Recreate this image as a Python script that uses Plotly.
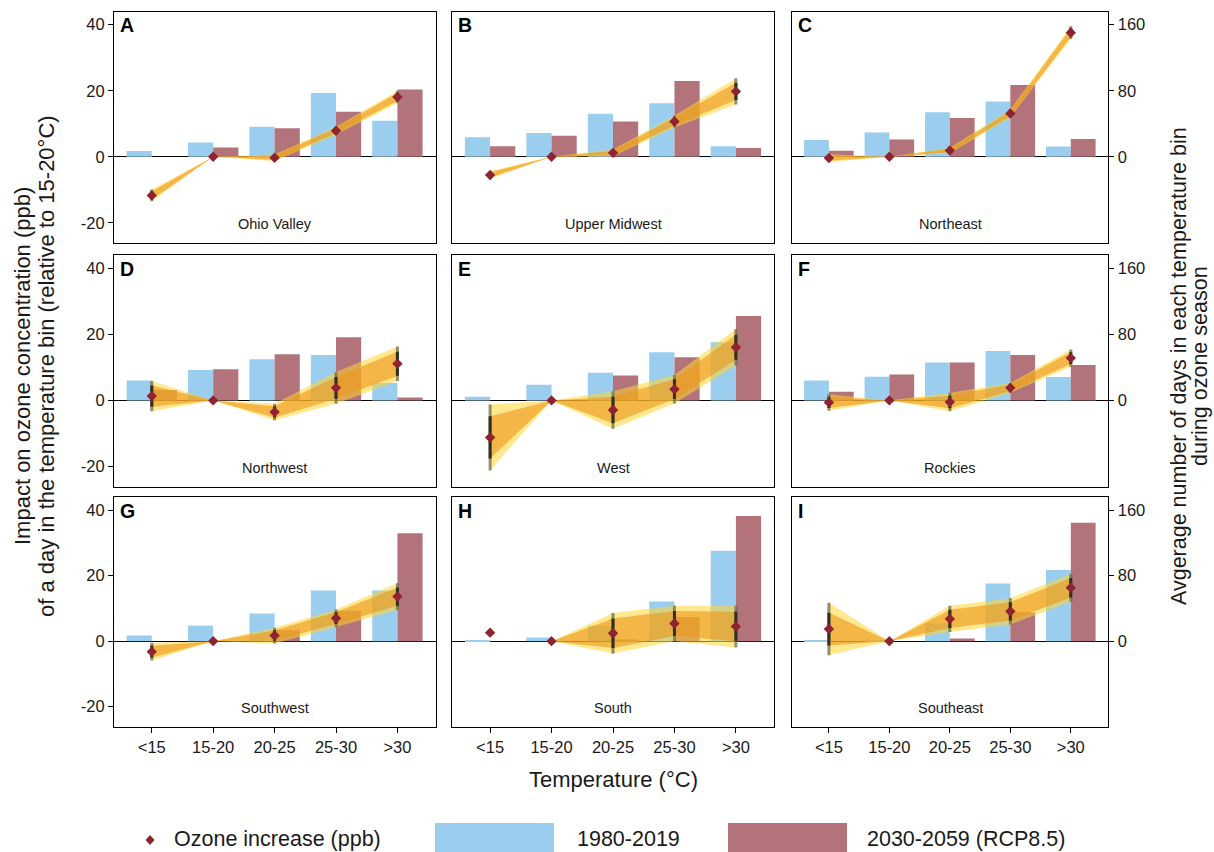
import plotly.graph_objects as go

# ---------------- data ----------------
categories = ["<15", "15-20", "20-25", "25-30", ">30"]
region_names = ["Ohio Valley", "Upper Midwest", "Northeast",
                "Northwest", "West", "Rockies",
                "Southwest", "South", "Southeast"]
panel_letters = ["A", "B", "C", "D", "E", "F", "G", "H", "I"]

# days per temperature bin (right axis)
ohio_valley_days_1980 = [6.9, 17.4, 36.4, 77.2, 43.6]
ohio_valley_days_2030 = [0, 11.3, 34.7, 54.5, 81.6]
upper_midwest_days_1980 = [23.8, 28.7, 52.1, 65.0, 12.9]
upper_midwest_days_2030 = [12.9, 25.5, 42.8, 91.7, 10.5]
northeast_days_1980 = [20.2, 29.5, 54.1, 67.1, 12.5]
northeast_days_2030 = [7.3, 21.0, 46.9, 86.9, 21.4]
northwest_days_1980 = [24.2, 36.8, 49.7, 55.0, 21.0]
northwest_days_2030 = [12.5, 37.6, 55.8, 76.4, 3.6]
west_days_1980 = [4.4, 19.0, 33.5, 58.2, 70.3]
west_days_2030 = [0, 0, 30.3, 52.1, 102.2]
rockies_days_1980 = [24.2, 28.7, 46.0, 59.8, 28.3]
rockies_days_2030 = [10.5, 31.5, 46.0, 55.0, 42.8]
southwest_days_1980 = [6.9, 19.0, 33.9, 61.8, 61.8]
southwest_days_2030 = [0, 0, 13.7, 37.2, 131.7]
south_days_1980 = [0.8, 4.4, 18.6, 48.5, 110.3]
south_days_2030 = [0, 0, 2.0, 29.5, 152.7]
southeast_days_1980 = [0.8, 1.2, 21.8, 70.3, 86.9]
southeast_days_2030 = [0, 0, 3.2, 35.2, 144.6]

# ozone impact (ppb, left axis) with inner / outer confidence half-widths
ohio_valley_ozone = [-11.7, 0, -0.3, 7.9, 18.1]
ohio_valley_ci_inner = [1.2, 0, 0.7, 0.8, 1.2]
ohio_valley_ci_outer = [1.8, 0, 1.0, 1.2, 1.8]
upper_midwest_ozone = [-5.5, 0, 1.2, 10.7, 19.8]
upper_midwest_ci_inner = [0.8, 0, 0.7, 1.2, 2.6]
upper_midwest_ci_outer = [1.2, 0, 1.0, 1.8, 4.0]
northeast_ozone = [-0.4, 0, 1.9, 13.1, 37.6]
northeast_ci_inner = [0.8, 0, 0.5, 0.8, 1.3]
northeast_ci_outer = [1.2, 0, 0.8, 1.2, 1.9]
northwest_ozone = [1.3, 0, -3.5, 3.8, 11.1]
northwest_ci_inner = [3.2, 0, 1.7, 3.3, 3.6]
northwest_ci_outer = [4.6, 0, 2.5, 4.8, 5.2]
west_ozone = [-11.2, 0, -2.9, 3.4, 16.1]
west_ci_inner = [6.4, 0, 4.0, 3.0, 3.8]
west_ci_outer = [10.0, 0, 5.7, 4.3, 5.5]
rockies_ozone = [-0.6, 0, -0.5, 3.8, 12.8]
rockies_ci_inner = [1.7, 0, 1.9, 1.0, 1.8]
rockies_ci_outer = [2.5, 0, 2.8, 1.5, 2.6]
southwest_ozone = [-3.2, 0, 1.7, 7.0, 13.6]
southwest_ci_inner = [1.8, 0, 1.6, 1.8, 2.8]
southwest_ci_outer = [2.7, 0, 2.4, 2.7, 4.1]
south_ozone = [2.6, 0, 2.4, 5.4, 4.5]
south_ci_inner = [None, 0, 4.5, 3.8, 4.5]
south_ci_outer = [None, 0, 6.2, 5.4, 6.4]
southeast_ozone = [3.7, 0, 6.8, 9.1, 16.3]
southeast_ci_inner = [5.0, 0, 2.8, 2.8, 3.0]
southeast_ci_outer = [8.0, 0, 4.0, 4.0, 4.3]

ppb_ticks = [-20, 0, 20, 40]
ppb_tick_labels = ["-20", "0", "20", "40"]
day_ticks = [0, 80, 160]
day_tick_labels = ["0", "80", "160"]

panels = [
    (ohio_valley_days_1980, ohio_valley_days_2030, ohio_valley_ozone, ohio_valley_ci_inner, ohio_valley_ci_outer),
    (upper_midwest_days_1980, upper_midwest_days_2030, upper_midwest_ozone, upper_midwest_ci_inner, upper_midwest_ci_outer),
    (northeast_days_1980, northeast_days_2030, northeast_ozone, northeast_ci_inner, northeast_ci_outer),
    (northwest_days_1980, northwest_days_2030, northwest_ozone, northwest_ci_inner, northwest_ci_outer),
    (west_days_1980, west_days_2030, west_ozone, west_ci_inner, west_ci_outer),
    (rockies_days_1980, rockies_days_2030, rockies_ozone, rockies_ci_inner, rockies_ci_outer),
    (southwest_days_1980, southwest_days_2030, southwest_ozone, southwest_ci_inner, southwest_ci_outer),
    (south_days_1980, south_days_2030, south_ozone, south_ci_inner, south_ci_outer),
    (southeast_days_1980, southeast_days_2030, southeast_ozone, southeast_ci_inner, southeast_ci_outer),
]

# ---------------- style ----------------
W, H = 1214, 852
FONT = "Liberation Sans, Arial, sans-serif"
BLUE = "#9BCDEE"
RED = "#B2747A"
DIAMOND = "#8E2432"
OUTER_BAND = "rgba(255,214,50,0.55)"
INNER_BAND = "rgba(236,152,28,0.62)"
OUTER_ERR = "rgba(110,110,70,0.75)"
INNER_ERR = "#2E3020"
TXT = "#1a1a1a"

PPB_RANGE = [-26.2, 44.0]
DAY_RANGE = [PPB_RANGE[0] * 4, PPB_RANGE[1] * 4]
X_RANGE = [-0.615, 4.62]

cols_px = [(114, 435.5), (452.3, 774), (791.7, 1108.3)]
rows_px = [(11.5, 243.3), (255, 487), (497, 727)]


def fx(p):
    return p / W


def fy(p):
    return 1 - p / H


fig = go.Figure()
layout = dict(
    width=W, height=H,
    margin=dict(l=0, r=0, t=0, b=0),
    paper_bgcolor="white", plot_bgcolor="rgba(0,0,0,0)",
    showlegend=False, barmode="overlay",
    font=dict(family=FONT, color=TXT),
)
annotations = []
shapes = []

for i, (d80, d30, oz, ci_in, ci_out) in enumerate(panels):
    r, c = divmod(i, 3)
    n = i + 1
    xref = "x" if n == 1 else f"x{n}"
    ydays = "y" if n == 1 else f"y{n}"
    yppb = f"y{n + 9}"

    # bars on the days axis
    fig.add_trace(go.Bar(x=categories, y=d80, width=0.41, offset=-0.41,
                         marker=dict(color=BLUE, line=dict(width=0)),
                         xaxis=xref, yaxis=ydays, name="1980-2019"))
    fig.add_trace(go.Bar(x=categories, y=d30, width=0.41, offset=0,
                         marker=dict(color=RED, line=dict(width=0)),
                         xaxis=xref, yaxis=ydays, name="2030-2059 (RCP8.5)"))

    # confidence bands on the ppb axis
    idx = [k for k in range(len(categories)) if ci_out[k] is not None]
    xs = [categories[k] for k in idx]
    for ci, col in ((ci_out, OUTER_BAND), (ci_in, INNER_BAND)):
        up = [oz[k] + ci[k] for k in idx]
        lo = [oz[k] - ci[k] for k in idx]
        fig.add_trace(go.Scatter(x=xs + xs[::-1], y=up + lo[::-1], fill="toself",
                                 fillcolor=col, mode="lines", line=dict(width=0),
                                 hoverinfo="skip", xaxis=xref, yaxis=yppb))
    # error bars
    for ci, col in ((ci_out, OUTER_ERR), (ci_in, INNER_ERR)):
        arr = [0 if v is None else v for v in ci]
        fig.add_trace(go.Scatter(x=categories, y=oz, mode="markers",
                                 marker=dict(size=1, color="rgba(0,0,0,0)"),
                                 error_y=dict(type="data", array=arr, visible=True,
                                              color=col, thickness=3, width=0),
                                 hoverinfo="skip", xaxis=xref, yaxis=yppb))
    fig.add_trace(go.Scatter(x=categories, y=oz, mode="markers",
                             marker=dict(symbol="diamond", size=8, color=DIAMOND),
                             xaxis=xref, yaxis=yppb, name="Ozone increase (ppb)"))

    x0, x1 = cols_px[c]
    t0, t1 = rows_px[r]
    xkey = "xaxis" if n == 1 else f"xaxis{n}"
    ykey = "yaxis" if n == 1 else f"yaxis{n}"
    layout[xkey] = dict(
        domain=[fx(x0), fx(x1)], range=X_RANGE, type="category",
        categoryorder="array", categoryarray=categories,
        anchor=ydays, showline=True, mirror=True, linecolor="black", linewidth=1.3,
        showgrid=False, zeroline=False,
        ticks="outside" if r == 2 else "", ticklen=5, tickwidth=1.2, tickcolor="black",
        showticklabels=(r == 2), tickfont=dict(size=16.5, family=FONT, color=TXT),
    )
    layout[ykey] = dict(
        domain=[fy(t1), fy(t0)], range=DAY_RANGE, anchor=xref, side="right",
        showline=True, mirror=True, linecolor="black", linewidth=1.3,
        showgrid=False, zeroline=True, zerolinecolor="black", zerolinewidth=1.4,
        tickmode="array", tickvals=day_ticks, ticktext=day_tick_labels,
        ticks="outside" if c == 2 else "", ticklen=5, tickwidth=1.2, tickcolor="black",
        showticklabels=(c == 2), tickfont=dict(size=16.5, family=FONT, color=TXT),
    )
    layout[f"yaxis{n + 9}"] = dict(
        range=PPB_RANGE, anchor=xref, overlaying=ydays, side="left",
        showline=False, showgrid=False, zeroline=False,
        tickmode="array", tickvals=ppb_ticks, ticktext=ppb_tick_labels,
        ticks="outside" if c == 0 else "", ticklen=5, tickwidth=1.2, tickcolor="black",
        showticklabels=(c == 0), tickfont=dict(size=16.5, family=FONT, color=TXT),
    )

    annotations.append(dict(text=f"<b>{panel_letters[i]}</b>", xref="paper", yref="paper",
                            x=fx(x0 + 4), y=fy(t0 + 1), xanchor="left", yanchor="top",
                            showarrow=False, font=dict(size=19.5, family=FONT, color="black")))
    annotations.append(dict(text=region_names[i], xref=f"{xref} domain", yref=yppb,
                            x=0.5, y=-20.4, xanchor="center", yanchor="middle",
                            showarrow=False, font=dict(size=14.5, family=FONT, color=TXT)))

# axis titles (one annotation per line for precise spacing)
for txt, xc, sz in (("Impact on ozone concentration (ppb)", 22, 22),
                    ("of a day in the temperature bin (relative to 15-20°C)", 46, 22),
                    ("Avgerage number of days in each temperature bin", 1179, 21.5),
                    ("during ozone season", 1200, 21.5)):
    annotations.append(dict(text=txt, xref="paper", yref="paper", x=fx(xc), y=fy(366),
                            textangle=-90, xanchor="center", yanchor="middle",
                            showarrow=False, font=dict(size=sz, family=FONT, color=TXT)))
annotations.append(dict(text="Temperature (°C)", xref="paper", yref="paper",
                        x=fx(613), y=fy(779), xanchor="center", yanchor="middle",
                        showarrow=False, font=dict(size=22, family=FONT, color=TXT)))

# legend (drawn manually with large Stata-style keys)
cx, cy, hw, hh = 150, 840, 4.5, 5
shapes.append(dict(type="path", xref="paper", yref="paper",
                   path=f"M {fx(cx - hw)},{fy(cy)} L {fx(cx)},{fy(cy - hh)} L {fx(cx + hw)},{fy(cy)} L {fx(cx)},{fy(cy + hh)} Z",
                   fillcolor=DIAMOND, line=dict(width=0)))
shapes.append(dict(type="rect", xref="paper", yref="paper", x0=fx(435), x1=fx(554),
                   y0=fy(852), y1=fy(823), fillcolor=BLUE, line=dict(width=0)))
shapes.append(dict(type="rect", xref="paper", yref="paper", x0=fx(728), x1=fx(847),
                   y0=fy(852), y1=fy(823), fillcolor=RED, line=dict(width=0)))
for txt, xl in (("Ozone increase (ppb)", 172), ("1980-2019", 575), ("2030-2059 (RCP8.5)", 865)):
    annotations.append(dict(text=txt, xref="paper", yref="paper", x=fx(xl), y=fy(839),
                            xanchor="left", yanchor="middle", showarrow=False,
                            font=dict(size=21.5, family=FONT, color=TXT)))

layout["annotations"] = annotations
layout["shapes"] = shapes
fig.update_layout(**layout)
fig.write_html("out.html", config={"displayModeBar": False},
               post_script="document.body.style.margin='0';document.body.style.padding='0';document.body.style.overflow='hidden';")
